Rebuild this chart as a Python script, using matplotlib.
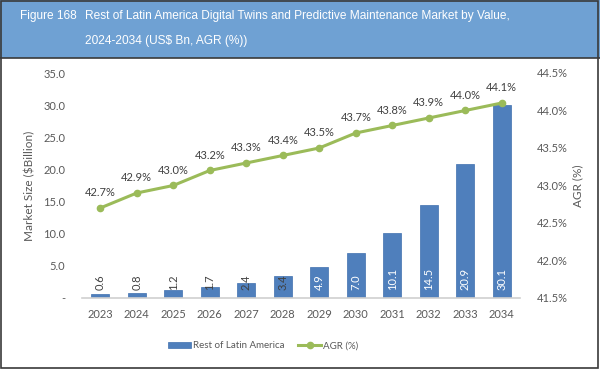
import matplotlib.pyplot as plt
from matplotlib.patches import Rectangle
from matplotlib.lines import Line2D

# chart data
years = ['2023', '2024', '2025', '2026', '2027', '2028',
         '2029', '2030', '2031', '2032', '2033', '2034']
market = [0.6, 0.8, 1.2, 1.7, 2.4, 3.4, 4.9, 7.0, 10.1, 14.5, 20.9, 30.1]
agr = [42.7, 42.9, 43.0, 43.2, 43.3, 43.4, 43.5, 43.7, 43.8, 43.9, 44.0, 44.1]
left_ticks = [0, 5, 10, 15, 20, 25, 30, 35]
right_ticks = [41.5, 42.0, 42.5, 43.0, 43.5, 44.0, 44.5]

bar_color = '#4f7fbc'
line_color = '#9bbb59'
text_color = '#404040'
tick_color = '#595959'
font = 'Lato'

fig = plt.figure(figsize=(6, 3.69), dpi=100)

# header banner
fig.patches.append(Rectangle((0, 1 - 58 / 369), 1, 58 / 369, transform=fig.transFigure,
                             facecolor='#6fa1d3', edgecolor='none', zorder=0))
fig.add_artist(Line2D([0, 1], [1 - 58 / 369, 1 - 58 / 369], transform=fig.transFigure,
                      color='#3a3a3a', lw=1.2))
# outer frame
fig.patches.append(Rectangle((0.002, 0.003), 0.995, 0.995, transform=fig.transFigure,
                             facecolor='none', edgecolor='#3a3a3a', lw=1.2, zorder=5))

fig.text(20 / 600, 1 - 16 / 369, 'Figure 168', color='white', fontsize=8.6,
         family='Liberation Sans', va='center', ha='left')
fig.text(85 / 600, 1 - 16 / 369,
         'Rest of Latin America Digital Twins and Predictive Maintenance Market by Value,',
         color='white', fontsize=8.6, family='Liberation Sans', va='center', ha='left')
fig.text(85 / 600, 1 - 41 / 369, '2024-2034 (US$ Bn, AGR (%))', color='white',
         fontsize=8.6, family='Liberation Sans', va='center', ha='left')

ax = fig.add_axes([82 / 600, 71 / 369, 438 / 600, 225 / 369])
x = list(range(len(years)))
ax.bar(x, market, width=0.5, color=bar_color, edgecolor='#3f6fae', lw=0.5,
       label='Rest of Latin America', zorder=2)
ax.set_xlim(-0.5, len(years) - 0.5)
ax.set_ylim(0, 35)
ax.set_yticks(left_ticks)
ax.set_yticklabels(['-' if v == 0 else f'{v:.1f}' for v in left_ticks])
ax.set_xticks(x)
ax.set_xticklabels(years)
for s in ['top', 'right', 'left']:
    ax.spines[s].set_visible(False)
ax.spines['bottom'].set_color('#d0d0d0')
ax.spines['bottom'].set_linewidth(1.2)
ax.tick_params(length=0, labelsize=8, labelcolor=tick_color)
ax.tick_params(axis='x', pad=8)
ax.tick_params(axis='y', pad=12)
for lab in ax.get_xticklabels() + ax.get_yticklabels():
    lab.set_family(font)
ax.set_ylabel('Market Size ($Billion)', fontsize=8.5, color=tick_color, family=font, labelpad=6)

for i, v in enumerate(market):
    c = text_color if v < 4 else 'white'
    ax.annotate(f'{v:.1f}', (i, 0), xytext=(0, 6), textcoords='offset points',
                rotation=90, ha='center', va='bottom', fontsize=8, color=c,
                family=font, zorder=4)

ax2 = ax.twinx()
ax2.plot(x, agr, color=line_color, lw=2.2, marker='o', ms=4.5, label='AGR (%)', zorder=3)
ax2.set_ylim(41.5, 44.5)
ax2.set_yticks(right_ticks)
ax2.set_yticklabels([f'{v:.1f}%' for v in right_ticks])
for s in ['top', 'right', 'left', 'bottom']:
    ax2.spines[s].set_visible(False)
ax2.tick_params(length=0, labelsize=8, labelcolor=tick_color, pad=12)
for lab in ax2.get_yticklabels():
    lab.set_family(font)
ax2.set_ylabel('AGR (%)', fontsize=8.5, color=tick_color, family=font, labelpad=3)

for i, v in enumerate(agr):
    ax2.annotate(f'{v:.1f}%', (i, v), xytext=(0, 7), textcoords='offset points',
                 ha='center', va='bottom', fontsize=8, color=text_color, family=font)

handles = [Rectangle((0, 0), 1, 1, facecolor=bar_color, edgecolor='#3f6fae', lw=0.5),
           Line2D([0], [0], color=line_color, lw=2.2, marker='o', ms=4.5)]
fig.legend(handles, ['Rest of Latin America', 'AGR (%)'], loc='center',
           bbox_to_anchor=(263 / 600, 1 - 346 / 369), ncol=2, frameon=False,
           prop={'family': font, 'size': 7}, labelcolor=tick_color,
           handlelength=2.4, handleheight=0.6, columnspacing=1.4, handletextpad=0.2)

fig.savefig('out.png', dpi=100)
